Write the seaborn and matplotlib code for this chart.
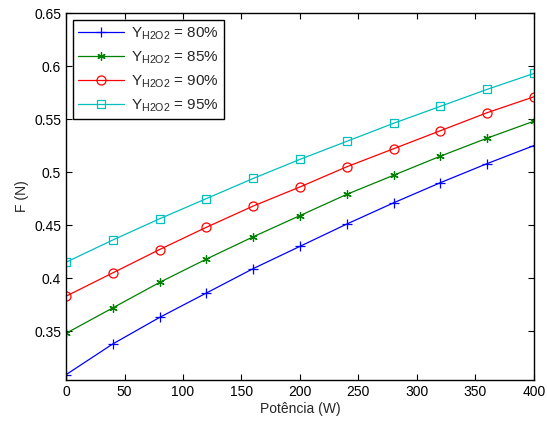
import numpy as np
import pandas as pd
import matplotlib
matplotlib.use("Agg")
import matplotlib.pyplot as plt
import seaborn as sns

potencia = [0, 40, 80, 120, 160, 200, 240, 280, 320, 360, 400]
f_80 = [0.309, 0.338, 0.363, 0.386, 0.409, 0.430, 0.451, 0.471, 0.490, 0.508, 0.525]
f_85 = [0.348, 0.372, 0.396, 0.418, 0.439, 0.459, 0.479, 0.497, 0.515, 0.532, 0.548]
f_90 = [0.383, 0.405, 0.427, 0.448, 0.468, 0.486, 0.505, 0.522, 0.539, 0.556, 0.571]
f_95 = [0.415, 0.436, 0.456, 0.475, 0.494, 0.512, 0.529, 0.546, 0.562, 0.578, 0.593]
labels = ["80%", "85%", "90%", "95%"]
xticks = [0, 50, 100, 150, 200, 250, 300, 350, 400]
yticks = [0.35, 0.4, 0.45, 0.5, 0.55, 0.6, 0.65]

sns.set_style("ticks")
plt.rcParams['font.family'] = ['Liberation Sans', 'DejaVu Sans']
plt.rcParams['mathtext.fontset'] = 'custom'
plt.rcParams['mathtext.rm'] = 'Liberation Sans'
plt.rcParams['mathtext.it'] = 'Liberation Sans'

fig = plt.figure(figsize=(5.47, 4.24), dpi=100)
ax = fig.add_axes([0.1207, 0.1038, 0.976 - 0.1207, 0.9693 - 0.1038])

colors = ['#0000ff', '#008000', '#ff0000', '#00bfbf']
markers = ['+', (6, 2, 0), 'o', 's']
msizes = [6.5, 6, 6.5, 6]
series = [f_80, f_85, f_90, f_95]

for vals, lab, c, m, ms in zip(series, labels, colors, markers, msizes):
    df = pd.DataFrame({'x': potencia, 'y': vals})
    sns.lineplot(data=df, x='x', y='y', ax=ax, color=c, marker=m, markersize=ms,
                 markerfacecolor='none', markeredgecolor=c, markeredgewidth=0.9,
                 linewidth=0.9, label=r'$\mathregular{Y_{H2O2}}$ = ' + lab)

ax.set_xlim(0, 400)
ax.set_ylim(0.304, 0.65)
ax.set_xticks(xticks)
ax.set_yticks(yticks)
ax.set_yticklabels([f"{t:g}" for t in yticks])
ax.tick_params(direction='in', top=True, right=True, labelsize=10, length=4, width=0.8, colors='black')
for s in ax.spines.values():
    s.set_visible(True)
    s.set_color('black')
    s.set_linewidth(1.0)
ax.set_xlabel('Potência (W)', fontsize=10, labelpad=2)
ax.set_ylabel('F (N)', fontsize=10, labelpad=4)

leg = ax.legend(loc='upper left', fontsize=11, handlelength=3.0, fancybox=False,
                edgecolor='black', framealpha=1, borderpad=0.35, labelspacing=0.5,
                handletextpad=0.45, borderaxespad=0, bbox_to_anchor=(0.015, 0.981))
leg.get_frame().set_linewidth(1.0)

fig.savefig('out.png', dpi=100)
